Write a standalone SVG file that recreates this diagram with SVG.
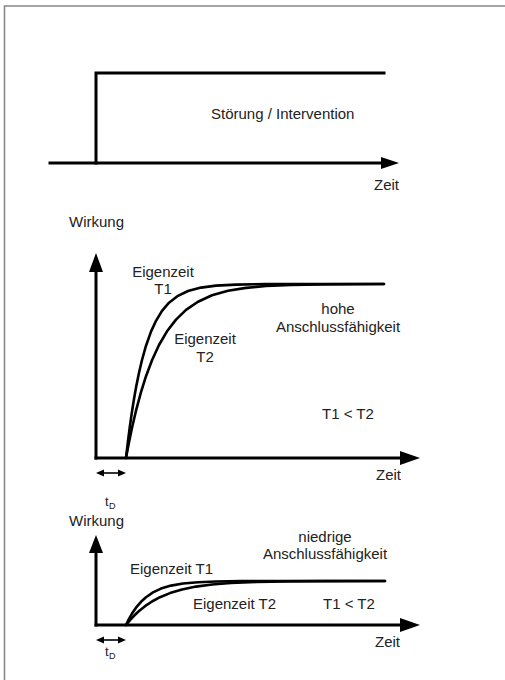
<svg xmlns="http://www.w3.org/2000/svg" width="505" height="680" viewBox="0 0 505 680">
<style>
text{font-family:"Liberation Sans",Arial,sans-serif;font-size:15px;fill:#222}
.c{text-anchor:middle}
.ax{stroke:#000;stroke-width:3;fill:none;stroke-linecap:square}
.cv{stroke:#000;stroke-width:2.6;fill:none;stroke-linejoin:round;stroke-linecap:round}
.ah{fill:#000}
.sm{font-size:13px}
.sub{font-size:9px}
</style>
<rect width="505" height="680" fill="#fff"/>
<path d="M4.5,680 V6 H505" stroke="#888" stroke-width="1.6" fill="none"/>

<g id="panel-top">
  <g id="connectors-top">
    <path class="ax" d="M50,163 H384"/>
    <polygon class="ah" points="399,163 381,157 381,169"/>
    <path class="ax" d="M96,163 V73 H384" stroke-linecap="butt"/>
  </g>
  <g id="label-stoerung"><text x="211" y="119">Störung / Intervention</text></g>
  <g id="label-zeit-top"><text x="374" y="190">Zeit</text></g>
</g>

<g id="panel-mid">
  <g id="connectors-mid">
    <path class="ax" d="M96,458 V270"/>
    <polygon class="ah" points="96,253 89,272 103,272"/>
    <path class="ax" d="M96,458 H402"/>
    <polygon class="ah" points="420,458 400,451 400,465"/>
    <path class="cv" d="M126,458 L128,440.9 L130,425.4 L132,411.5 L134,399 L136,387.6 L139,372.7 L142,360 L146,345.7 L151,331.6 L156,320.8 L162,310.9 L169,302.7 L178,295.8 L188,291 L201,287.6 L216,285.6 L236,284.6 L266,284.1 L300,284 L384,284"/>
    <path class="cv" d="M126,458 L129,442.2 L132,427.8 L136,410.7 L141,392.1 L146,376.2 L152,360.2 L159,345 L167,331.3 L176,319.6 L186,309.9 L198,301.7 L212,295.3 L228,290.8 L246,287.9 L266,286 L291,284.9 L321,284.4 L384,284"/>
    <path d="M98,473 H124" stroke="#000" stroke-width="1.6"/>
    <polygon class="ah" points="96,473 104,469.5 104,476.5"/>
    <polygon class="ah" points="126,473 118,469.5 118,476.5"/>
  </g>
  <g id="label-wirkung-mid"><text x="69" y="227">Wirkung</text></g>
  <g id="label-t1-mid"><text class="c" x="163" y="277">Eigenzeit</text><text class="c" x="163" y="294">T1</text></g>
  <g id="label-t2-mid"><text class="c" x="205" y="344">Eigenzeit</text><text class="c" x="205" y="362">T2</text></g>
  <g id="label-hohe"><text class="c" x="338" y="314">hohe</text><text class="c" x="338" y="332">Anschlussfähigkeit</text></g>
  <g id="label-cmp-mid"><text x="322" y="419">T1 &lt; T2</text></g>
  <g id="label-zeit-mid"><text x="376" y="480">Zeit</text></g>
  <g id="label-td-mid"><text class="sm" x="105" y="506">t</text><text class="sub" x="109" y="509">D</text></g>
</g>

<g id="panel-bottom">
  <g id="connectors-bottom">
    <path class="ax" d="M96,625 V550"/>
    <polygon class="ah" points="96,535 89,553 103,553"/>
    <path class="ax" d="M96,625 H402"/>
    <polygon class="ah" points="420,625 400,618 400,632"/>
    <path class="cv" d="M126,625 L129,618.9 L132,613.6 L136,607.7 L141,601.8 L146,597.2 L153,592.4 L161,588.6 L171,585.6 L183,583.5 L198,582.2 L216,581.5 L241,581.1 L280,581 L385,581"/>
    <path class="cv" d="M126,625 L130,620.1 L134,615.8 L139,611 L145,606.2 L152,601.5 L160,597.2 L170,593.1 L182,589.5 L196,586.6 L212,584.5 L231,583 L256,582 L286,581.4 L326,581.1 L385,581"/>
    <path d="M98,640 H124" stroke="#000" stroke-width="1.6"/>
    <polygon class="ah" points="96,640 104,636.5 104,643.5"/>
    <polygon class="ah" points="126,640 118,636.5 118,643.5"/>
  </g>
  <g id="label-wirkung-bottom"><text x="69" y="526">Wirkung</text></g>
  <g id="label-niedrige"><text class="c" x="325" y="542">niedrige</text><text class="c" x="325" y="559">Anschlussfähigkeit</text></g>
  <g id="label-t1-bottom"><text x="130" y="574">Eigenzeit T1</text></g>
  <g id="label-t2-bottom"><text x="193" y="609">Eigenzeit T2</text></g>
  <g id="label-cmp-bottom"><text x="323" y="609">T1 &lt; T2</text></g>
  <g id="label-zeit-bottom"><text x="375" y="647">Zeit</text></g>
  <g id="label-td-bottom"><text class="sm" x="105" y="656">t</text><text class="sub" x="109" y="659">D</text></g>
</g>
</svg>
